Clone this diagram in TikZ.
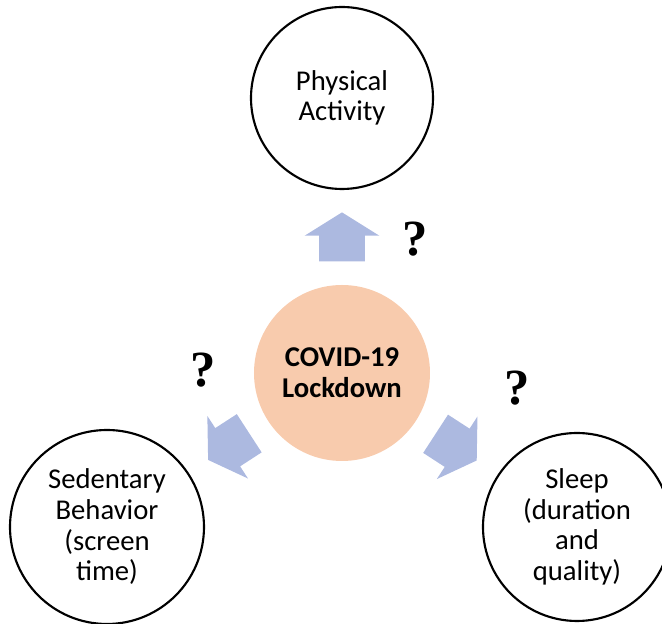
\documentclass[tikz,border=0pt]{standalone}
\usepackage{fontspec}
\setmainfont{Carlito}
\newfontfamily\askfont{Liberation Serif}
\usetikzlibrary{shapes.arrows}
\definecolor{peach}{RGB}{248,203,173}
\definecolor{arrowblue}{RGB}{172,185,224}
\begin{document}
\begin{tikzpicture}[x=0.75pt, y=0.75pt, font=\fontsize{21.5}{23}\selectfont,
		bubble/.style={circle, draw=black, line width=1.6pt, align=center, inner sep=0pt},
		blockarrow/.style={single arrow, fill=arrowblue, draw=none, inner xsep=0pt, inner ysep=16.9pt,
			minimum height=36.75pt, minimum width=55.5pt,
			single arrow head extend=10.9pt, single arrow tip angle=116},
		ask/.style={inner sep=0pt, font=\askfont\bfseries\fontsize{38}{38}\selectfont}]
		\useasboundingbox (-342,-251) rectangle (320,373);
		% centre
		\node[circle, fill=peach, minimum size=132pt, inner sep=0pt, align=center,
			font=\bfseries\fontsize{21.5}{23}\selectfont] (lock) at (0,0) {COVID-19\\Lockdown};
		% outcomes
		\node[bubble, minimum size=136.5pt] (phys) at (0,275) {Physical\\Activity};
		\node[bubble, minimum size=145.5pt] (sed) at (-235,-154) {Sedentary\\Behavior\\(screen\\time)};
		\node[bubble, minimum size=141pt] (sleep) at (235,-154) {Sleep\\(duration\\and\\quality)};
		% arrows
		\node[blockarrow, rotate=90] (arrphys) at (90:129) {};
		\node[blockarrow, rotate=213] (arrsed) at (213:128) {};
		\node[blockarrow, rotate=-33] (arrsleep) at (-33:129) {};
		% question marks
		\node[ask] (askphys) at (73,134) {?};
		\node[ask] (asksed) at (-139,3) {?};
		\node[ask] (asksleep) at (175,-15) {?};
\end{tikzpicture}
\end{document}
